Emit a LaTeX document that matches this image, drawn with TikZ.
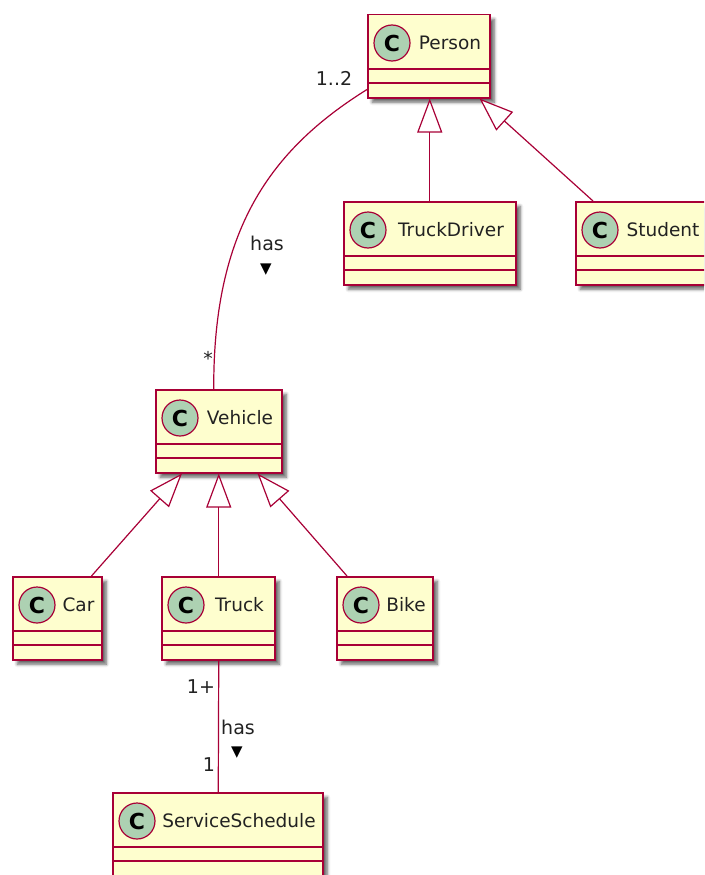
\documentclass[tikz,border=0pt]{standalone}
\usepackage{fontspec}
\setmainfont{DejaVu Sans}
\usetikzlibrary{arrows.meta,shadows.blur}
\definecolor{umlborder}{HTML}{A80036}
\definecolor{umlfill}{HTML}{FEFECE}
\definecolor{umlcirc}{HTML}{ADD1B2}
\definecolor{umltext}{HTML}{222222}
\tikzset{
  cls/.style={draw=umlborder, fill=umlfill, line width=1.5pt, rectangle, inner sep=0pt,
    blur shadow={shadow xshift=4.5pt, shadow yshift=-4.5pt, shadow blur radius=3pt, shadow opacity=60}},
  sepline/.style={draw=umlborder, line width=1.5pt},
  circ/.style={circle, draw=umlborder, fill=umlcirc, line width=1.2pt, minimum size=36pt, inner sep=0pt,
    font=\fontsize{22}{22}\selectfont\bfseries, text=black},
  clsname/.style={font=\fontsize{18.5}{18.5}\selectfont, text=umltext, inner sep=0pt},
  lbl/.style={font=\fontsize{19}{19}\selectfont, text=umltext, inner sep=0pt},
  tri/.style={font=\fontsize{15}{15}\selectfont, text=black, inner sep=0pt},
  conn/.style={draw=umlborder, line width=1.2pt},
  inh/.style={conn, {Triangle[length=34pt, width=25pt, fill=white, line width=1.2pt]}-},
}
\newcommand\umlclass[5]{%
  \node[cls, minimum width={(#4-#2)*1pt}, minimum height=83pt, anchor=north west] (#1) at (#2,#3) {};
  \draw[sepline] ([yshift=-55pt]#1.north west) -- ([yshift=-55pt]#1.north east);
  \draw[sepline] ([yshift=-69pt]#1.north west) -- ([yshift=-69pt]#1.north east);
  \node[circ] (#1-c) at ({#2+25},{#3+29}) {C};
  \node[clsname] (#1-t) at ({(#2+44+#4)/2},{#3+29}) {#5};
}
\begin{document}
\begin{tikzpicture}[x=1pt,y=-1pt]
\useasboundingbox (0,0) rectangle (704,875);
\clip (0,0) rectangle (704,875);
\umlclass{Person}{367}{14}{489}{Person}
\umlclass{TruckDriver}{343}{201}{515}{TruckDriver}
\umlclass{Student}{575}{201}{707}{Student}
\umlclass{Vehicle}{155}{389}{281}{Vehicle}
\umlclass{Car}{12}{576}{101}{Car}
\umlclass{Truck}{161}{576}{274}{Truck}
\umlclass{Bike}{336}{576}{432}{Bike}
\umlclass{ServiceSchedule}{112}{792}{322}{ServiceSchedule}
% inheritance
\draw[inh] ([xshift=1pt]Person.south) -- ([xshift=0pt]TruckDriver.north);
\draw[inh] ([xshift=-11pt]Person.south east) -- ([xshift=18pt]Student.north west);
\draw[inh] ([xshift=27pt]Vehicle.south west) -- ([xshift=-11pt]Car.north east);
\draw[inh] (Vehicle.south) -- ([xshift=0.5pt]Truck.north);
\draw[inh] ([xshift=-25pt]Vehicle.south east) -- ([xshift=11pt]Bike.north west);
% associations
\draw[conn] ([yshift=9pt]Person.south west) .. controls (270,150) and (213,230) .. ([xshift=-5pt]Vehicle.north);
\draw[conn] ([xshift=0.5pt]Truck.south) -- (ServiceSchedule.north -| Truck.south);
% labels
\node[lbl] (l12) at (334,78) {1..2};
\node[lbl] (lstar) at (208,358) {*};
\node[lbl] (lhas1) at (267,243) {has};
\node[tri] (ltri1) at (266,270) {▼};
\node[lbl] (l1p) at (201,687) {1+};
\node[lbl] (lhas2) at (238,727) {has};
\node[tri] (ltri2) at (237,753) {▼};
\node[lbl] (lone) at (209,765) {1};
\end{tikzpicture}
\end{document}
